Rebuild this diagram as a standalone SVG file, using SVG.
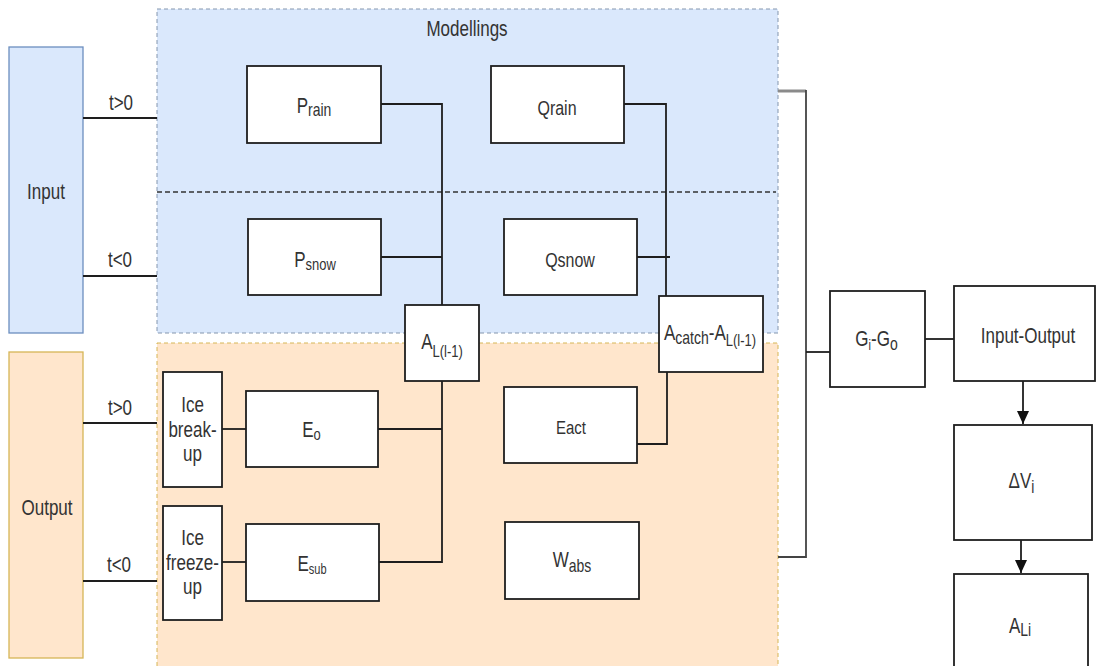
<svg xmlns="http://www.w3.org/2000/svg" width="1097" height="666" viewBox="0 0 1097 666">
<style>
.t{font-family:"Liberation Sans",Arial,sans-serif;font-size:17px;fill:#333;text-anchor:middle}
.box{fill:#fff;stroke:#1e1e1e;stroke-width:1.8}
.ln{fill:none;stroke:#1e1e1e;stroke-width:1.8}
.s13{font-size:13px}
.s14{font-size:14px}
</style>
<defs>
<marker id="arrow" markerUnits="userSpaceOnUse" markerWidth="14" markerHeight="12" viewBox="0 0 14 12" refX="13" refY="6" orient="auto">
<path d="M0,0 L13,6 L0,12 Z" fill="#111"/>
</marker>
</defs>
<rect width="1097" height="666" fill="#fff"/>

<g id="modellings-input">
<rect x="157" y="9" width="621" height="324" fill="#dae8fc" stroke="#8496ae" stroke-width="1" stroke-dasharray="4 3"/>
<text class="t" transform="translate(467 36) scale(1 1.28)">Modellings</text>
</g>
<g id="modellings-output">
<rect x="157" y="343" width="621" height="335" fill="#ffe6cc" stroke="#d6b656" stroke-width="1" stroke-dasharray="4 3"/>
</g>
<g id="divider">
<line x1="157" y1="192" x2="776" y2="192" stroke="#333" stroke-width="1.5" stroke-dasharray="5 3"/>
</g>

<g id="input">
<rect x="9" y="47" width="74" height="286" fill="#dae8fc" stroke="#6c8ebf" stroke-width="1.3"/>
<text class="t" transform="translate(46 199) scale(1 1.28)">Input</text>
</g>
<g id="output">
<rect x="9" y="352" width="74" height="306" fill="#ffe6cc" stroke="#d6b656" stroke-width="1.3"/>
<text class="t" transform="translate(47 515) scale(1 1.28)">Output</text>
</g>

<g id="connectors">
<line class="ln" x1="83" y1="118" x2="157" y2="118"/>
<line class="ln" x1="83" y1="276" x2="157" y2="276"/>
<line class="ln" x1="83" y1="423" x2="157" y2="423"/>
<line class="ln" x1="83" y1="581" x2="157" y2="581"/>
<line class="ln" x1="222" y1="429" x2="246" y2="429"/>
<line class="ln" x1="222" y1="562" x2="246" y2="562"/>
<polyline class="ln" points="381,104 442,104 442,305"/>
<line class="ln" x1="381" y1="257" x2="442" y2="257"/>
<polyline class="ln" points="442,381 442,562 379,562"/>
<line class="ln" x1="378" y1="429" x2="442" y2="429"/>
<polyline class="ln" points="624,104 666,104 666,296"/>
<line class="ln" x1="637" y1="257" x2="670" y2="257"/>
<polyline class="ln" points="637,444 667,444 667,372"/>
<line x1="778" y1="91" x2="806" y2="91" stroke="#8a8a8a" stroke-width="3"/>
<polyline fill="none" stroke="#444" stroke-width="1.8" points="806,90 806,557 778,557"/>
<line class="ln" x1="806" y1="352" x2="830" y2="352"/>
<line class="ln" x1="925" y1="339" x2="954" y2="339"/>
<line class="ln" x1="1023" y1="381" x2="1023" y2="424" marker-end="url(#arrow)"/>
<line class="ln" x1="1021" y1="540" x2="1021" y2="573" marker-end="url(#arrow)"/>
</g>

<g id="prain">
<rect class="box" x="247" y="66" width="134" height="77"/>
<text class="t" transform="translate(314 113) scale(1 1.28)">P<tspan class="s14" dy="2">rain</tspan></text>
</g>
<g id="qrain">
<rect class="box" x="491" y="66" width="133" height="77"/>
<text class="t" style="font-size:16px" transform="translate(557 115) scale(1 1.28)">Qrain</text>
</g>
<g id="psnow">
<rect class="box" x="248" y="219" width="133" height="76"/>
<text class="t" transform="translate(315 267) scale(1 1.28)">P<tspan class="s13" dy="2">snow</tspan></text>
</g>
<g id="qsnow">
<rect class="box" x="504" y="219" width="133" height="76"/>
<text class="t" style="font-size:16px" transform="translate(570 267) scale(1 1.28)">Qsnow</text>
</g>
<g id="al">
<rect class="box" x="405" y="305" width="74" height="76"/>
<text class="t" transform="translate(442 349) scale(1 1.28)">A<tspan class="s13" dy="6">L(l-1)</tspan></text>
</g>
<g id="acatch">
<rect class="box" x="659" y="296" width="104" height="76"/>
<text class="t" transform="translate(710 340) scale(1 1.28)">A<tspan class="s14" dy="3">catch</tspan><tspan dy="-3">-A</tspan><tspan class="s13" dy="5">L(l-1)</tspan></text>
</g>
<g id="ice-breakup">
<rect class="box" x="163" y="372" width="59" height="115"/>
<text class="t" transform="translate(192.5 412) scale(1 1.28)">Ice</text>
<text class="t" transform="translate(192.5 437) scale(1 1.28)">break-</text>
<text class="t" transform="translate(192.5 461) scale(1 1.28)">up</text>
</g>
<g id="eo">
<rect class="box" x="246" y="391" width="132" height="76"/>
<text class="t" transform="translate(311.5 437) scale(1 1.28)">E<tspan class="s13" dy="2.5">o</tspan></text>
</g>
<g id="eact">
<rect class="box" x="504" y="387" width="133" height="76"/>
<text class="t" style="font-size:15px" transform="translate(571 434) scale(1 1.28)">Eact</text>
</g>
<g id="ice-freezeup">
<rect class="box" x="163" y="506" width="59" height="114"/>
<text class="t" transform="translate(192.5 545) scale(1 1.28)">Ice</text>
<text class="t" transform="translate(192.5 570) scale(1 1.28)">freeze-</text>
<text class="t" transform="translate(192.5 594) scale(1 1.28)">up</text>
</g>
<g id="esub">
<rect class="box" x="246" y="524" width="133" height="77"/>
<text class="t" transform="translate(312 571) scale(1 1.28)">E<tspan style="font-size:11px" dy="2">sub</tspan></text>
</g>
<g id="wabs">
<rect class="box" x="505" y="522" width="134" height="77"/>
<text class="t" transform="translate(572 567) scale(1 1.28)">W<tspan class="s14" dy="4">abs</tspan></text>
</g>
<g id="labels">
<text class="t" transform="translate(121 110) scale(1 1.28)">t&gt;0</text>
<text class="t" transform="translate(120 267) scale(1 1.28)">t&lt;0</text>
<text class="t" transform="translate(120 415) scale(1 1.28)">t&gt;0</text>
<text class="t" transform="translate(119 572) scale(1 1.28)">t&lt;0</text>
</g>
<g id="gigo">
<rect class="box" x="830" y="291" width="95" height="96"/>
<text class="t" transform="translate(876.5 346) scale(1 1.28)">G<tspan style="font-size:11px" dy="3">i</tspan><tspan dy="-3">-G</tspan><tspan class="s14" dy="3">o</tspan></text>
</g>
<g id="input-output">
<rect class="box" x="954" y="286" width="141" height="95"/>
<text class="t" transform="translate(1028 343) scale(1 1.28)">Input-Output</text>
</g>
<g id="delta-v">
<rect class="box" x="954" y="425" width="138" height="115"/>
<text class="t" transform="translate(1021.5 488) scale(1 1.28)">ΔV<tspan class="s14" dy="4">i</tspan></text>
</g>
<g id="ali">
<rect class="box" x="954" y="574" width="134" height="100"/>
<text class="t" transform="translate(1020 633) scale(1 1.28)">A<tspan class="s14" dy="2">Li</tspan></text>
</g>
</svg>
